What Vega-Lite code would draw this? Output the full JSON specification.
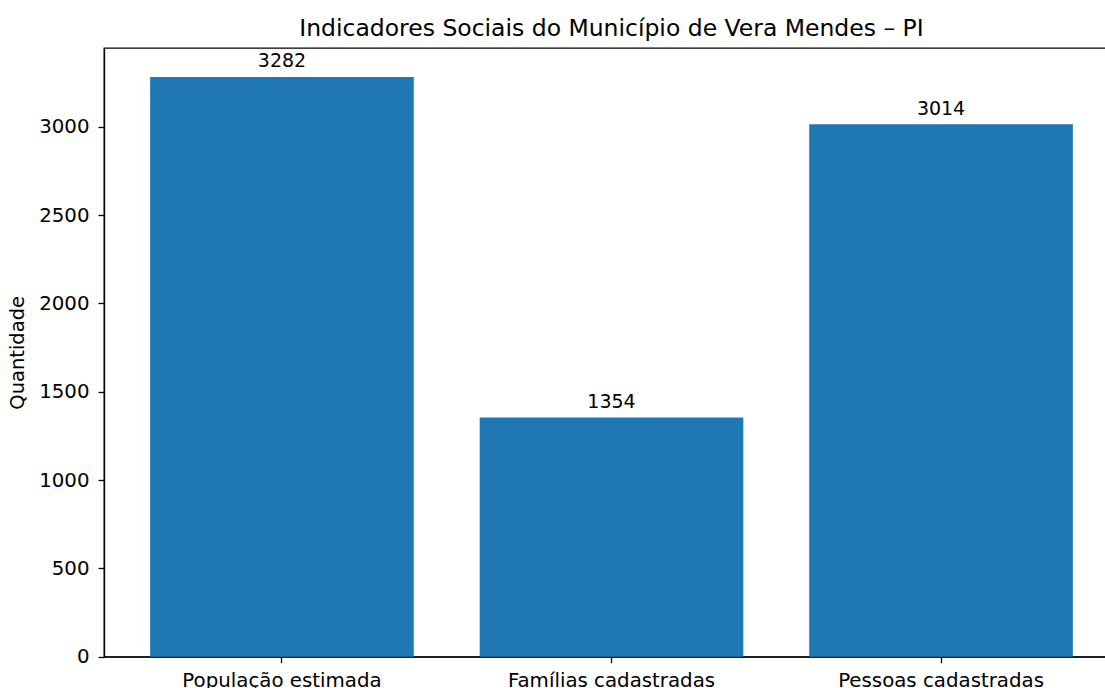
{
  "$schema": "https://vega.github.io/schema/vega-lite/v6.json",
  "width": 1015,
  "height": 608.7,
  "autosize": {"type": "none"},
  "padding": {"left": 104, "top": 48, "right": 0, "bottom": 32},
  "background": "white",
  "title": {
    "text": "Indicadores Sociais do Município de Vera Mendes – PI",
    "fontSize": 23.5,
    "fontWeight": "normal",
    "font": "DejaVu Sans",
    "color": "black",
    "anchor": "middle",
    "offset": 7
  },
  "data": {
    "values": [
      {"indicador": "População estimada", "valor": 3282},
      {"indicador": "Famílias cadastradas", "valor": 1354},
      {"indicador": "Pessoas cadastradas", "valor": 3014}
    ]
  },
  "encoding": {
    "x": {
      "field": "indicador",
      "type": "nominal",
      "sort": null,
      "scale": {"paddingInner": 0.2, "paddingOuter": 0.14},
      "axis": {"title": null, "labelAngle": 0, "tickSize": 6, "labelPadding": 7.5, "labelLimit": 0}
    },
    "y": {
      "field": "valor",
      "type": "quantitative",
      "scale": {"domain": [0, 3446], "nice": false, "zero": true},
      "axis": {
        "title": "Quantidade",
        "values": [0, 500, 1000, 1500, 2000, 2500, 3000],
        "format": "d",
        "grid": false,
        "tickSize": 6,
        "labelPadding": 9,
        "titlePadding": 11
      }
    }
  },
  "layer": [
    {"mark": {"type": "bar", "color": "#1f77b4"}},
    {
      "mark": {"type": "text", "align": "center", "baseline": "alphabetic", "dy": -9.5, "fontSize": 19, "font": "DejaVu Sans", "color": "black"},
      "encoding": {"text": {"field": "valor", "type": "quantitative", "format": "d"}}
    }
  ],
  "config": {
    "font": "DejaVu Sans",
    "view": {"stroke": "black", "strokeWidth": 1.3},
    "axis": {
      "labelFont": "DejaVu Sans",
      "titleFont": "DejaVu Sans",
      "labelFontSize": 19.8,
      "titleFontSize": 19.5,
      "titleFontWeight": "normal",
      "labelColor": "black",
      "titleColor": "black",
      "domainColor": "black",
      "domainWidth": 1.3,
      "tickColor": "black",
      "tickWidth": 1.3
    }
  }
}
